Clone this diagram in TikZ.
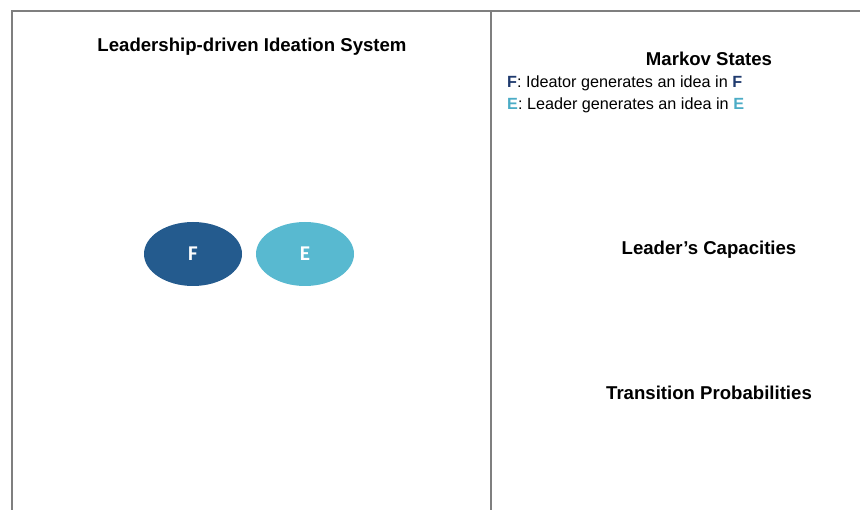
\documentclass[tikz,border=0pt]{standalone}
\usepackage{fontspec}
\setmainfont{Liberation Sans}
\newfontfamily\calib{Carlito}
\usetikzlibrary{shapes.geometric}
\definecolor{fdark}{HTML}{245B8E}
\definecolor{elight}{HTML}{58B9D0}
\definecolor{fleg}{HTML}{1F3A6E}
\definecolor{eleg}{HTML}{4BACC6}
\definecolor{frame}{HTML}{7F7F7F}
\tikzset{
  panel/.style={draw=frame, line width=2.5pt},
  title/.style={font=\fontsize{18.6}{20}\selectfont\bfseries, inner sep=0pt},
  legend/.style={font=\fontsize{16.2}{18}\selectfont, inner sep=0pt, anchor=west},
  state/.style={ellipse, minimum width=98pt, minimum height=64pt, inner sep=0pt, text=white, font=\calib\fontsize{21}{23}\selectfont\bfseries},
}
\begin{document}
\begin{tikzpicture}[x=1pt,y=-1pt]
\useasboundingbox (0,0) rectangle (860,510);
\coordinate (tl) at (12,11);
\coordinate (tr) at (860,11);
\coordinate (bl) at (12,510);
\coordinate (tm) at (491,11);
\coordinate (bm) at (491,510);
\draw[panel] (bl) -- (tl) -- (tr);
\draw[panel] (tm) -- (bm);
\node[title] (t1) at (252,46.5) {Leadership-driven Ideation System};
\node[title] (t2) at (709,59) {Markov States};
\node[legend] (l1) at (507,83) {\textcolor{fleg}{\bfseries F}: Ideator generates an idea in \textcolor{fleg}{\bfseries F}};
\node[legend] (l2) at (507,105) {\textcolor{eleg}{\bfseries E}: Leader generates an idea in \textcolor{eleg}{\bfseries E}};
\node[title] (t3) at (709,249.5) {Leader’s Capacities};
\node[title] (t4) at (709,393) {Transition Probabilities};
\node[state, fill=fdark] (F) at (193,254) {F};
\node[state, fill=elight] (E) at (305,254) {E};
\end{tikzpicture}
\end{document}
